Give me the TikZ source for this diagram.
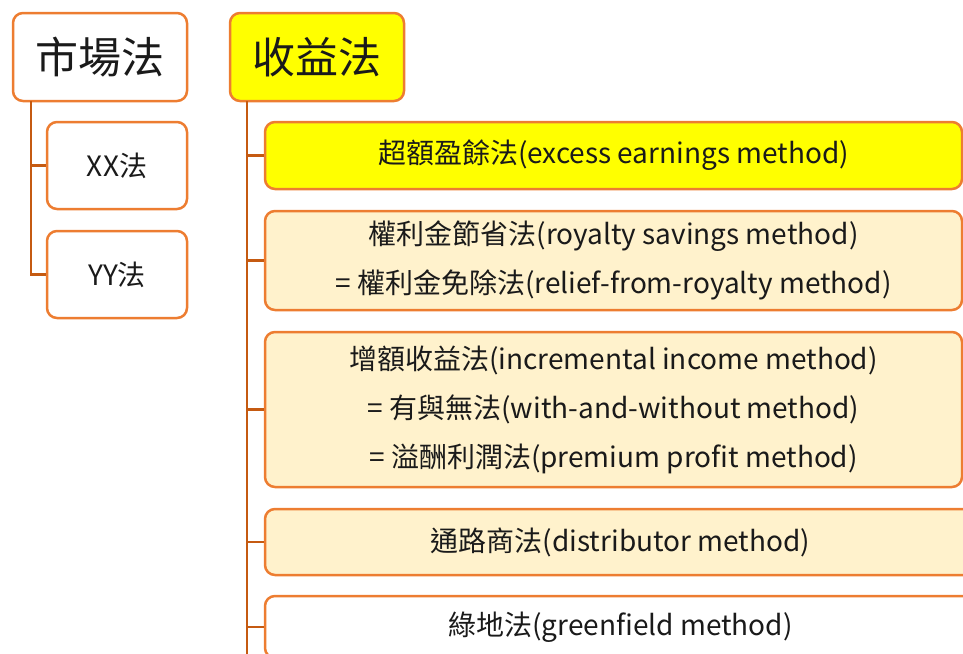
\documentclass[tikz,border=0pt]{standalone}
\usepackage{fontspec}
\setmainfont{Noto Sans CJK TC}
\definecolor{bord}{HTML}{ED7D31}
\definecolor{conn}{HTML}{C55A11}
\definecolor{cream}{HTML}{FFF2CC}
\definecolor{yel}{HTML}{FFFF00}
\definecolor{txt}{HTML}{1A1A1A}
\tikzset{
  box/.style={draw=bord, line width=2.5pt, rounded corners=10pt, inner sep=0pt,
    text=txt, align=center, font=\fontsize{28}{49}\selectfont},
  big/.style={box, font=\fontsize{43}{50}\selectfont},
  link/.style={draw=conn, line width=2.6pt}
}
\begin{document}
\begin{tikzpicture}[x=1pt,y=-1pt]
\useasboundingbox (0,0) rectangle (963,653);
\clip (0,0) rectangle (963,653);
\coordinate (mv) at (31,101);
\coordinate (rv) at (247,101);
\coordinate (rb) at (247,670);
\node[big, fill=white, minimum width=174pt, minimum height=88pt] (m) at (100,57) {市場法};
\node[big, fill=yel, minimum width=174pt, minimum height=88pt] (s) at (317,57) {收益法};
\node[box, fill=white, minimum width=140pt, minimum height=87pt] (xx) at (117,165.5) {XX法};
\node[box, fill=white, minimum width=140pt, minimum height=87pt] (yy) at (117,274.5) {YY法};
\node[box, fill=yel, minimum width=697pt, minimum height=67pt] (b1) at (613.5,155.5) {超額盈餘法(excess earnings method)};
\node[box, fill=cream, minimum width=697pt, minimum height=99pt] (b2) at (613.5,260.5) {權利金節省法(royalty savings method)\\= 權利金免除法(relief-from-royalty method)};
\node[box, fill=cream, minimum width=697pt, minimum height=155pt] (b3) at (613.5,409.5) {增額收益法(incremental income method)\\= 有與無法(with-and-without method)\\= 溢酬利潤法(premium profit method)};
\node[box, fill=cream, minimum width=711pt, minimum height=66pt] (b4) at (620.5,542) {通路商法(distributor method)};
\node[box, fill=white, minimum width=711pt, minimum height=62pt] (b5) at (620.5,627) {綠地法(greenfield method)};
\draw[link] (mv) |- (xx.west);
\draw[link] (mv) |- (yy.west);
\draw[link] (rv) -- (rb);
\draw[link] (rv) |- (b1.west);
\draw[link] (rv) |- (b2.west);
\draw[link] (rv) |- (b3.west);
\draw[link] (rv) |- (b4.west);
\draw[link] (rv) |- (b5.west);
\end{tikzpicture}
\end{document}
